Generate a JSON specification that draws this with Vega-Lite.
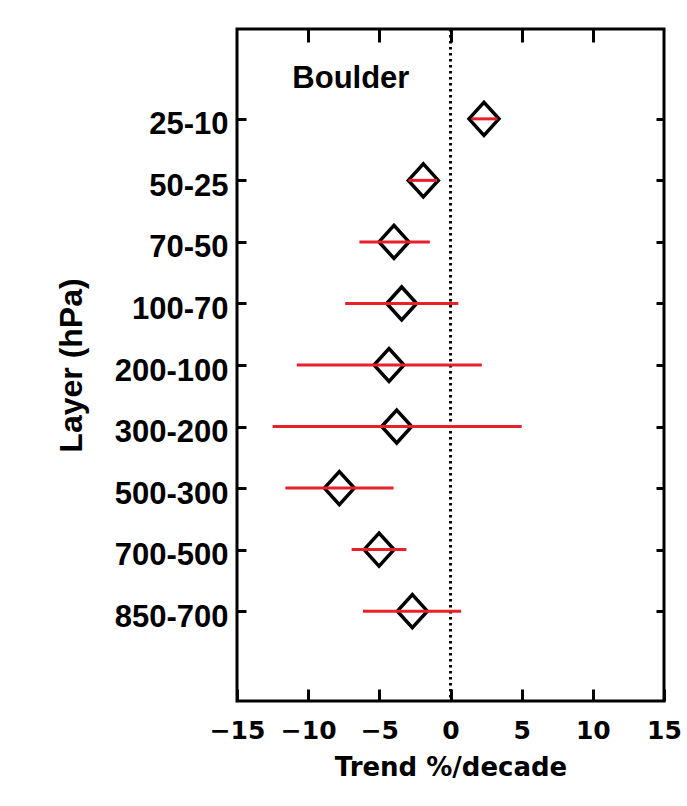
{
  "$schema": "https://vega.github.io/schema/vega-lite/v6.json",
  "width": 427,
  "height": 672,
  "autosize": "none",
  "padding": {"left": 237, "top": 29, "right": 23, "bottom": 105},
  "background": "white",
  "config": {
    "view": {"stroke": "black", "strokeWidth": 3},
    "axis": {
      "domain": false,
      "grid": false,
      "tickColor": "black",
      "tickWidth": 3,
      "labelColor": "black",
      "titleColor": "black",
      "labelOverlap": false,
      "labelFlush": false,
      "labelBound": false
    }
  },
  "datasets": {
    "trends": [
      {"layer": "25-10", "i": 1, "trend": 2.35, "lo": 1.5, "hi": 3.3},
      {"layer": "50-25", "i": 2, "trend": -1.91, "lo": -2.95, "hi": -0.95},
      {"layer": "70-50", "i": 3, "trend": -3.97, "lo": -6.4, "hi": -1.45},
      {"layer": "100-70", "i": 4, "trend": -3.43, "lo": -7.4, "hi": 0.55},
      {"layer": "200-100", "i": 5, "trend": -4.32, "lo": -10.8, "hi": 2.2},
      {"layer": "300-200", "i": 6, "trend": -3.78, "lo": -12.5, "hi": 5.0},
      {"layer": "500-300", "i": 7, "trend": -7.81, "lo": -11.6, "hi": -4.0},
      {"layer": "700-500", "i": 8, "trend": -5.02, "lo": -6.95, "hi": -3.1},
      {"layer": "850-700", "i": 9, "trend": -2.68, "lo": -6.15, "hi": 0.75}
    ]
  },
  "layer": [
    {
      "data": {"values": [{"zero": 0}]},
      "mark": {"type": "rule", "color": "black", "strokeWidth": 3, "strokeDash": [2.5, 3.5]},
      "encoding": {
        "x": {"field": "zero", "type": "quantitative", "axis": null}
      }
    },
    {
      "data": {"name": "trends"},
      "mark": {"type": "point", "shape": "M-1,0L0,-1.1L1,0L0,1.1Z", "filled": false, "stroke": "black", "strokeWidth": 3.5, "size": 900, "opacity": 1},
      "encoding": {
        "x": {
          "field": "trend", "type": "quantitative",
          "scale": {"domain": [-15, 15], "nice": false, "zero": false},
          "axis": {
            "orient": "bottom",
            "values": [-15, -10, -5, 0, 5, 10, 15],
            "tickSize": -12,
            "labelPadding": 29,
            "labelFont": "DejaVu Sans",
            "labelFontWeight": "bold",
            "labelFontSize": 25,
            "title": "Trend %/decade",
            "titleFont": "DejaVu Sans",
            "titleFontWeight": "bold",
            "titleFontSize": 26,
            "titlePadding": 11
          }
        },
        "y": {
          "field": "i", "type": "quantitative",
          "scale": {"domain": [-0.46, 10.46], "reverse": true, "nice": false, "zero": false},
          "axis": {
            "orient": "left",
            "values": [1, 2, 3, 4, 5, 6, 7, 8, 9],
            "labelExpr": "['', '25-10', '50-25', '70-50', '100-70', '200-100', '300-200', '500-300', '700-500', '850-700'][datum.value]",
            "tickSize": -9,
            "labelPadding": 18,
            "labelOffset": 6,
            "labelFont": "Liberation Sans",
            "labelFontWeight": "bold",
            "labelFontSize": 31,
            "title": "Layer (hPa)",
            "titleFont": "Liberation Sans",
            "titleFontWeight": "bold",
            "titleFontSize": 32,
            "titlePadding": 26
          }
        }
      }
    },
    {
      "data": {"name": "trends"},
      "mark": {"type": "rule", "color": "#e8202a", "strokeWidth": 3},
      "encoding": {
        "x": {
          "field": "lo", "type": "quantitative",
          "axis": {
            "orient": "top",
            "values": [-10, -5, 0, 5, 10],
            "tickSize": -13,
            "labels": false,
            "title": null
          }
        },
        "x2": {"field": "hi"},
        "y": {
          "field": "i", "type": "quantitative",
          "axis": {
            "orient": "right",
            "values": [1, 2, 3, 4, 5, 6, 7, 8, 9],
            "tickSize": -8,
            "labels": false,
            "title": null
          }
        }
      }
    },
    {
      "data": {"values": [{"station": "Boulder", "xpos": -7, "ypos": 0.35}]},
      "mark": {"type": "text", "font": "Liberation Sans", "fontWeight": "bold", "fontSize": 31, "color": "black", "align": "center", "baseline": "middle"},
      "encoding": {
        "x": {"field": "xpos", "type": "quantitative", "axis": null},
        "y": {"field": "ypos", "type": "quantitative", "axis": null},
        "text": {"field": "station"}
      }
    }
  ],
  "resolve": {"axis": {"x": "independent", "y": "independent"}}
}
